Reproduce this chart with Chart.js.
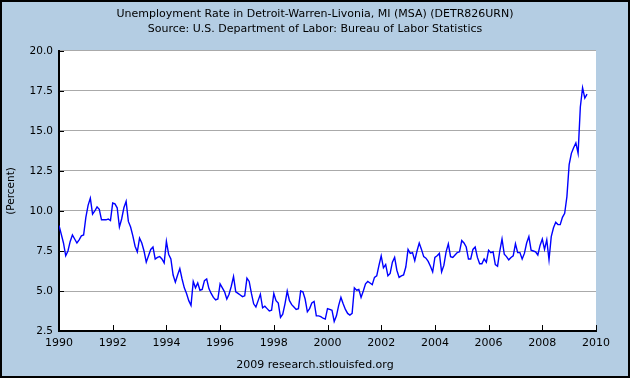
<!DOCTYPE html>
<html>
<head>
<meta charset="utf-8">
<script src="https://cdn.jsdelivr.net/npm/chart.js@4.4.1/dist/chart.umd.min.js"></script>
<style>
  html, body { margin: 0; padding: 0; background: #b4cde3; }
  #wrap { width: 630px; height: 378px; }
</style>
</head>
<body>
<div id="wrap"><canvas id="chart" width="630" height="378"></canvas></div>
<script>
const startYear = 1990;
// monthly unemployment rate (%), Jan 1990 onward, one row per year
const rate = [
  9.1, 8.55, 8.0, 7.2, 7.5, 8.1, 8.5, 8.25, 8.0, 8.2, 8.45, 8.5,
  9.6, 10.35, 10.8, 9.8, 10.0, 10.25, 10.1, 9.45, 9.45, 9.45, 9.5, 9.4,
  10.5, 10.45, 10.2, 9.0, 9.5, 10.2, 10.6, 9.35, 9.0, 8.45, 7.8, 7.45,
  8.3, 8.0, 7.5, 6.8, 7.2, 7.6, 7.75, 7.0, 7.1, 7.15, 7.0, 6.75,
  8.1, 7.3, 7.0, 6.0, 5.55, 6.0, 6.4, 5.75, 5.2, 4.85, 4.4, 4.1,
  5.6, 5.2, 5.5, 5.05, 5.1, 5.65, 5.75, 5.15, 4.85, 4.6, 4.45, 4.5,
  5.45, 5.2, 4.95, 4.5, 4.8, 5.3, 5.9, 4.95, 4.85, 4.75, 4.65, 4.7,
  5.8, 5.6, 4.85, 4.2, 4.0, 4.4, 4.8, 3.95, 4.05, 3.9, 3.75, 3.8,
  4.85, 4.4, 4.25, 3.35, 3.55, 4.2, 5.0, 4.4, 4.15, 4.0, 3.85, 3.9,
  5.0, 4.95, 4.5, 3.7, 3.9, 4.25, 4.35, 3.45, 3.45, 3.4, 3.3, 3.25,
  3.9, 3.85, 3.8, 3.1, 3.45, 4.1, 4.6, 4.2, 3.85, 3.6, 3.5, 3.6,
  5.2, 5.05, 5.1, 4.6, 5.0, 5.45, 5.6, 5.5, 5.4, 5.85, 5.95, 6.6,
  7.2, 6.45, 6.65, 5.95, 6.1, 6.8, 7.1, 6.3, 5.85, 5.95, 6.0, 6.5,
  7.6, 7.35, 7.4, 6.9, 7.5, 8.0, 7.6, 7.15, 7.05, 6.85, 6.55, 6.2,
  7.1, 7.2, 7.35, 6.2, 6.6, 7.45, 7.95, 7.15, 7.1, 7.25, 7.4, 7.45,
  8.15, 8.0, 7.75, 7.0, 7.0, 7.6, 7.75, 7.1, 6.7, 6.7, 7.0, 6.8,
  7.55, 7.4, 7.45, 6.65, 6.55, 7.5, 8.25, 7.3, 7.15, 6.95, 7.1, 7.2,
  7.95, 7.4, 7.4, 7.0, 7.35, 8.0, 8.4, 7.55, 7.5, 7.45, 7.25, 7.85,
  8.25, 7.6, 8.2, 6.95, 8.4, 8.95, 9.3, 9.15, 9.15, 9.6, 9.85, 10.9,
  12.9, 13.6, 13.95, 14.25, 13.6, 16.5, 17.7, 17.05, 17.3
];
const xTicks = [1990, 1992, 1994, 1996, 1998, 2000, 2002, 2004, 2006, 2008, 2010];
const yTicks = [2.5, 5.0, 7.5, 10.0, 12.5, 15.0, 17.5, 20.0];

const points = rate.map((v, i) => ({ x: startYear + i / 12, y: v }));

const FONT = 'DejaVu Sans';

const frame = {
  id: 'frame',
  beforeDraw(chart) {
    const { ctx, chartArea: a } = chart;
    ctx.save();
    ctx.fillStyle = '#b4cde3';
    ctx.fillRect(0, 0, chart.width, chart.height);
    ctx.fillStyle = '#ffffff';
    ctx.fillRect(a.left, a.top, a.right - a.left, a.bottom - a.top);
    ctx.restore();
  },
  afterDraw(chart) {
    const { ctx, chartArea: a, scales } = chart;
    ctx.save();
    ctx.strokeStyle = '#000';
    ctx.lineWidth = 1;
    // inward ticks
    ctx.beginPath();
    scales.x.ticks.forEach(t => {
      const px = Math.round(scales.x.getPixelForValue(t.value)) + 0.5;
      ctx.moveTo(px, a.bottom);
      ctx.lineTo(px, a.bottom - 6);
    });
    scales.y.ticks.forEach(t => {
      const py = Math.round(scales.y.getPixelForValue(t.value)) + 0.5;
      ctx.moveTo(a.left, py);
      ctx.lineTo(a.left + 5, py);
    });
    ctx.stroke();
    ctx.lineWidth = 2;
    ctx.strokeRect(1, 1, chart.width - 2, chart.height - 2);
    ctx.restore();
  }
};

new Chart(document.getElementById('chart').getContext('2d'), {
  type: 'line',
  data: {
    datasets: [{
      data: points,
      borderColor: '#0000ff',
      borderWidth: 1.4,
      pointRadius: 0,
      tension: 0,
      fill: false
    }]
  },
  options: {
    responsive: false,
    animation: false,
    layout: { padding: 0 },
    plugins: {
      legend: { display: false },
      tooltip: { enabled: false },
      title: {
        display: true,
        text: ['Unemployment Rate in Detroit-Warren-Livonia, MI (MSA) (DETR826URN)',
               'Source: U.S. Department of Labor: Bureau of Labor Statistics'],
        color: '#000',
        font: { family: FONT, size: 11, weight: 'normal', lineHeight: 1.36 },
        padding: { top: 7, bottom: 14 }
      },
      subtitle: {
        display: true,
        position: 'bottom',
        text: '2009 research.stlouisfed.org',
        color: '#000',
        font: { family: FONT, size: 11, weight: 'normal', lineHeight: 1.36 },
        padding: { top: 0, bottom: 5 }
      }
    },
    scales: {
      x: {
        type: 'linear',
        min: 1990,
        max: 2010,
        afterBuildTicks: s => { s.ticks = xTicks.map(v => ({ value: v })); },
        afterFit: s => { s.height = 27; },
        grid: { display: false, drawTicks: false },
        border: { display: true, color: '#000', width: 2 },
        ticks: {
          color: '#000',
          padding: 6,
          maxRotation: 0,
          font: { family: FONT, size: 11 },
          callback: v => String(v)
        }
      },
      y: {
        min: 2.5,
        max: 20,
        afterBuildTicks: s => { s.ticks = yTicks.map(v => ({ value: v })); },
        afterFit: s => { s.width = 59; },
        grid: { color: '#aaaaaa', lineWidth: 1, drawTicks: false },
        border: { display: true, color: '#000', width: 2 },
        title: {
          display: true,
          text: '(Percent)',
          color: '#000',
          font: { family: FONT, size: 10.5 },
          padding: { top: 5, bottom: 0 }
        },
        ticks: {
          color: '#000',
          padding: 6,
          font: { family: FONT, size: 10.5 },
          callback: v => v.toFixed(1)
        }
      },
      // empty right-hand margin so the plot ends where the reference does
      yRight: {
        position: 'right',
        min: 2.5,
        max: 20,
        afterFit: s => { s.width = 34; },
        grid: { display: false, drawTicks: false },
        border: { display: false },
        ticks: { display: false }
      }
    }
  },
  plugins: [frame]
});
</script>
</body>
</html>
